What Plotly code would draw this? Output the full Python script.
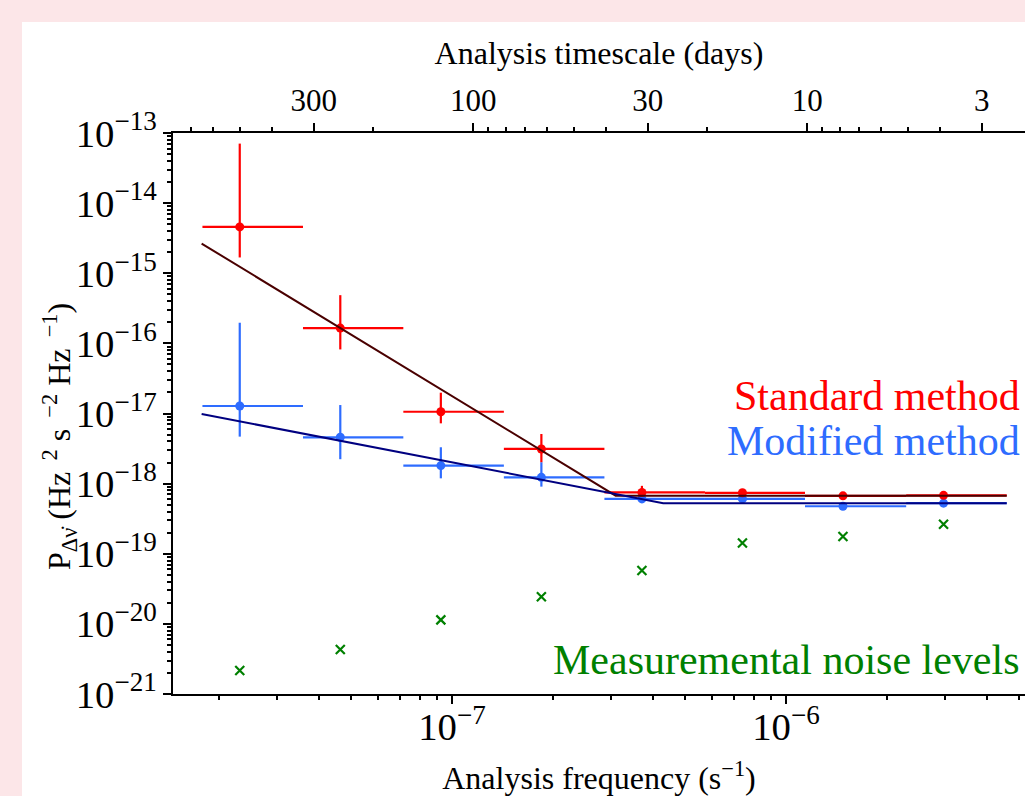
import plotly.graph_objects as go

# ---------------- data ----------------
freq = [2.315e-8, 4.63e-8, 9.26e-8, 1.852e-7, 3.704e-7, 7.407e-7, 1.481e-6, 2.963e-6]
bin_lo = [1.79e-8, 3.58e-8, 7.15e-8, 1.43e-7, 2.86e-7, 5.72e-7, 1.14e-6, 2.29e-6]
bin_hi = [3.58e-8, 7.15e-8, 1.43e-7, 2.86e-7, 5.72e-7, 1.14e-6, 2.29e-6, 4.58e-6]

std_p = [4.58e-15, 1.65e-16, 1.06e-17, 3.12e-18, 7.5e-19, 7.4e-19, 6.7e-19, 6.8e-19]
std_hi = [7.06e-14, 4.87e-16, 1.98e-17, 5.1e-18, 9.3e-19, 7.9e-19, 7.0e-19, 7.1e-19]
std_lo = [1.68e-15, 8.2e-17, 7.24e-18, 2.02e-18, 6.9e-19, 7.0e-19, 6.4e-19, 6.5e-19]

mod_p = [1.28e-17, 4.58e-18, 1.81e-18, 1.23e-18, 6.05e-19, 6.05e-19, 4.76e-19, 5.26e-19]
mod_hi = [1.97e-16, 1.32e-17, 3.3e-18, 2.02e-18, 6.8e-19, 6.4e-19, 5.0e-19, 5.5e-19]
mod_lo = [4.68e-18, 2.23e-18, 1.19e-18, 9.06e-19, 5.4e-19, 5.7e-19, 4.5e-19, 5.0e-19]

noise_p = [2.17e-21, 4.31e-21, 1.14e-20, 2.43e-20, 5.76e-20, 1.42e-19, 1.76e-19, 2.64e-19]

fit_std_f = [1.78e-8, 3.09e-7, 4.58e-6]
fit_std_p = [2.65e-15, 6.74e-19, 6.74e-19]
fit_mod_f = [1.78e-8, 4.29e-7, 4.58e-6]
fit_mod_p = [9.84e-18, 5.26e-19, 5.26e-19]

top_major_days = [300, 100, 30, 10, 3]
top_minor_days = [700, 600, 500, 400, 200, 90, 80, 70, 60, 50, 40, 20, 9, 8, 7, 6, 5, 4]

# ---------------- styling ----------------
RED = "#ff0000"
BLUE = "#2e6cff"
GREEN = "#008000"
DARKRED = "#4a0000"
NAVY = "#000080"
PINK = "#fce6e8"
FONT = "Liberation Serif"

SEC_PER_DAY = 86400.0


def day_to_freq(d):
    return 1.0 / (d * SEC_PER_DAY)


fig = go.Figure()


def errs(center, lo, hi):
    plus = [h - c for c, h in zip(center, hi)]
    minus = [c - l for c, l in zip(center, lo)]
    return plus, minus


sx_p, sx_m = errs(freq, bin_lo, bin_hi)
sy_p, sy_m = errs(std_p, std_lo, std_hi)
my_p, my_m = errs(mod_p, mod_lo, mod_hi)

fig.add_trace(go.Scatter(
    x=freq, y=mod_p, mode="markers",
    marker=dict(color=BLUE, size=9),
    error_x=dict(type="data", symmetric=False, array=sx_p, arrayminus=sx_m,
                 color=BLUE, thickness=2.2, width=0),
    error_y=dict(type="data", symmetric=False, array=my_p, arrayminus=my_m,
                 color=BLUE, thickness=2.2, width=0),
    name="Modified method", showlegend=False))

fig.add_trace(go.Scatter(
    x=freq, y=std_p, mode="markers",
    marker=dict(color=RED, size=9),
    error_x=dict(type="data", symmetric=False, array=sx_p, arrayminus=sx_m,
                 color=RED, thickness=2.2, width=0),
    error_y=dict(type="data", symmetric=False, array=sy_p, arrayminus=sy_m,
                 color=RED, thickness=2.2, width=0),
    name="Standard method", showlegend=False))

fig.add_trace(go.Scatter(
    x=freq, y=noise_p, mode="markers",
    marker=dict(symbol="x-thin", size=9, line=dict(color=GREEN, width=2.2), color=GREEN),
    name="Measuremental noise levels", showlegend=False))

fig.add_trace(go.Scatter(x=fit_std_f, y=fit_std_p, mode="lines",
                         line=dict(color=DARKRED, width=2), showlegend=False))
fig.add_trace(go.Scatter(x=fit_mod_f, y=fit_mod_p, mode="lines",
                         line=dict(color=NAVY, width=2), showlegend=False))

# invisible trace so the top axis is drawn
fig.add_trace(go.Scatter(x=[freq[0]], y=[std_p[0]], xaxis="x2", mode="markers",
                         marker=dict(opacity=0), showlegend=False, hoverinfo="skip"))

W, H = 1025, 796
L, T, B, R = 173, 133, 102, 0
pw = W - L - R
ph = H - T - B
XR = [-7.8353, -5.2844]
YR = [-21, -13]

tickfont = dict(family=FONT, size=31, color="black")
titlefont = dict(family=FONT, size=32, color="black")

fig.update_layout(
    width=W, height=H,
    margin=dict(l=L, r=R, t=T, b=B, pad=0),
    paper_bgcolor=PINK, plot_bgcolor="white",
    font=dict(family=FONT, color="black"),
    xaxis=dict(type="log", range=XR, showgrid=False, zeroline=False,
               showline=True, linecolor="black", linewidth=2, mirror=False,
               ticks="outside", ticklen=8, tickwidth=1.5, tickcolor="black",
               dtick=1, exponentformat="power", tickfont=tickfont,
               ticklabelstandoff=-9,
               minor=dict(ticks="outside", ticklen=4, tickwidth=1.5, tickcolor="black", dtick="D1"),
               title=dict(text="Analysis frequency (s<sup>−1</sup>)", font=titlefont, standoff=20)),
    xaxis2=dict(type="log", range=XR, overlaying="x", side="top", showgrid=False, zeroline=False,
                showline=True, linecolor="black", linewidth=2,
                ticks="outside", ticklen=8, tickwidth=1.5, tickcolor="black",
                tickmode="array", tickvals=[day_to_freq(d) for d in top_major_days],
                ticktext=[str(d) for d in top_major_days], tickfont=tickfont,
                minor=dict(ticks="outside", ticklen=4, tickwidth=1.5, tickcolor="black",
                           tickvals=[day_to_freq(d) for d in top_minor_days]),
                title=dict(text="Analysis timescale (days)", font=titlefont, standoff=8)),
    yaxis=dict(type="log", range=YR, showgrid=False, zeroline=False,
               showline=True, linecolor="black", linewidth=2, mirror=False,
               ticks="outside", ticklen=8, tickwidth=1.5, tickcolor="black",
               dtick=1, exponentformat="power", tickfont=tickfont,
               minor=dict(ticks="outside", ticklen=4, tickwidth=1.5, tickcolor="black", dtick="D1")),
    showlegend=False,
)

# white panel behind the chart
fig.add_shape(type="rect", xref="paper", yref="paper",
              x0=(22 - L) / pw, x1=1.2, y0=-0.4, y1=(H - B - 22) / ph,
              fillcolor="white", line=dict(width=0), layer="below")


def px_x(p):
    return (p - L) / pw


def px_y(p):
    return (H - B - p) / ph


# y-axis title (placed as rotated text)
SP = "\u2002"
fig.add_annotation(x=px_x(59), y=px_y(437), xref="paper", yref="paper",
                   xanchor="center", yanchor="middle", textangle=-90, showarrow=False,
                   text=f"P<sub>Δν̇</sub> (Hz<sup>{SP}2</sup> s<sup>{SP}−2</sup> Hz<sup>{SP}−1</sup>)",
                   font=titlefont)

ann_font = lambda c: dict(family=FONT, size=42, color=c)
xr = px_x(1022)
fig.add_annotation(x=xr, y=px_y(396), xref="paper", yref="paper", xanchor="right", yanchor="middle",
                   text="Standard method", showarrow=False, font=ann_font(RED))
fig.add_annotation(x=xr, y=px_y(441), xref="paper", yref="paper", xanchor="right", yanchor="middle",
                   text="Modified method", showarrow=False, font=ann_font(BLUE))
fig.add_annotation(x=xr, y=px_y(660), xref="paper", yref="paper", xanchor="right", yanchor="middle",
                   text="Measuremental noise levels", showarrow=False, font=ann_font(GREEN))

fig.write_html("out.html",
               config={"displayModeBar": False},
               post_script="document.body.style.margin='0';document.body.style.overflow='hidden';")
